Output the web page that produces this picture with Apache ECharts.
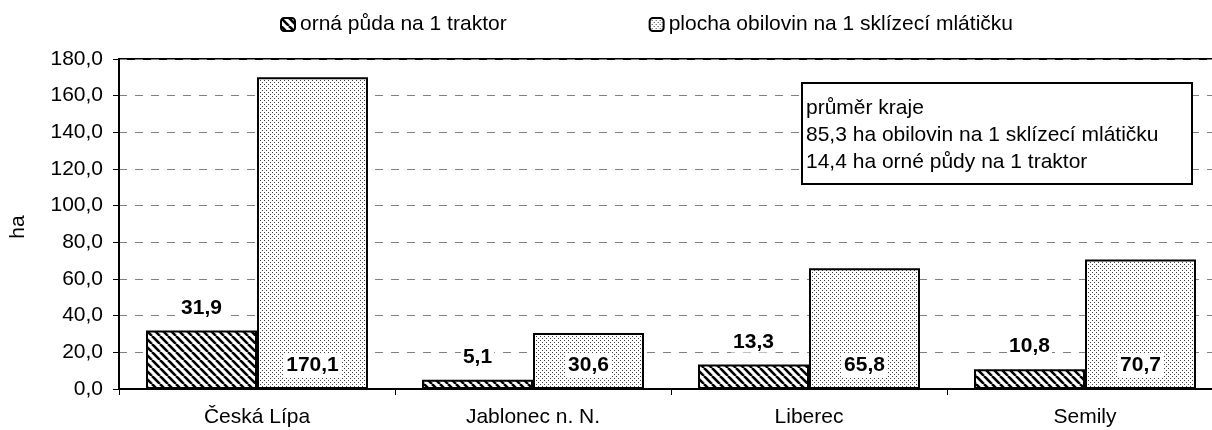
<!DOCTYPE html>
<html>
<head>
<meta charset="utf-8">
<script src="https://cdn.jsdelivr.net/npm/echarts@6/dist/echarts.min.js"></script>
<style>
  html, body { margin: 0; padding: 0; background: #fff; }
  #chart { width: 1212px; height: 430px; }
</style>
</head>
<body>
<div id="chart"></div>
<script>
// okresy
var categories = ['Česká Lípa', 'Jablonec n. N.', 'Liberec', 'Semily']
// ha orné půdy na 1 traktor
var tractorValues = [31.9, 5.1, 13.3, 10.8]
// ha obilovin na 1 sklízecí mlátičku
var combineValues = [170.1, 30.6, 65.8, 70.7]
var seriesNames = ['orná půda na 1 traktor', 'plocha obilovin na 1 sklízecí mlátičku']
var noteLines = ['průměr kraje', '85,3 ha obilovin na 1 sklízecí mlátičku', '14,4 ha orné půdy na 1 traktor']

var FONT = '"Liberation Sans", Arial, sans-serif'

function fmt(v) {
  return Number(v).toFixed(1).replace('.', ',')
}

// šrafování "\\\"
function hatchPattern() {
  var s = 8
  var c = document.createElement('canvas')
  c.width = s
  c.height = s
  var ctx = c.getContext('2d')
  ctx.fillStyle = '#fff'
  ctx.fillRect(0, 0, s, s)
  ctx.strokeStyle = '#000'
  ctx.lineWidth = 2.6
  for (var x0 = -s; x0 <= s; x0 += s) {
    ctx.beginPath()
    ctx.moveTo(x0, 0)
    ctx.lineTo(x0 + s, s)
    ctx.stroke()
  }
  return c
}

// jemné tečky
function dotPattern() {
  var c = document.createElement('canvas')
  c.width = 4
  c.height = 4
  var ctx = c.getContext('2d')
  ctx.fillStyle = '#fff'
  ctx.fillRect(0, 0, 4, 4)
  ctx.fillStyle = '#444'
  ctx.fillRect(0, 0, 1, 1)
  ctx.fillRect(2, 2, 1, 1)
  return c
}

var chart = echarts.init(document.getElementById('chart'), null, { renderer: 'canvas' })

chart.setOption({
  animation: false,
  textStyle: { fontFamily: FONT },
  legend: {
    top: 9,
    left: 275,
    itemGap: 142,
    itemWidth: 14,
    itemHeight: 13,
    textStyle: { fontSize: 21, color: '#000', fontFamily: FONT },
    data: seriesNames
  },
  grid: {
    left: 119,
    top: 59,
    width: 1104,
    height: 330,
    show: true,
    borderColor: '#000',
    borderWidth: 2,
    containLabel: false,
    outerBoundsMode: 'none'
  },
  xAxis: {
    type: 'category',
    data: categories,
    axisLine: { lineStyle: { color: '#000', width: 2 } },
    axisTick: { show: true, length: 6, lineStyle: { color: '#000', width: 1 } },
    axisLabel: { color: '#000', fontSize: 21, margin: 18, fontFamily: FONT }
  },
  yAxis: {
    type: 'value',
    min: 0,
    max: 180,
    interval: 20,
    name: 'ha',
    nameLocation: 'middle',
    nameGap: 90,
    nameRotate: 90,
    nameTextStyle: { fontSize: 21, color: '#000', fontFamily: FONT, padding: [0, 6, 0, 0] },
    axisLine: { show: true, lineStyle: { color: '#000', width: 2 } },
    axisTick: { show: true, length: 6, lineStyle: { color: '#000', width: 1 } },
    axisLabel: { color: '#000', fontSize: 21, margin: 16, formatter: fmt, fontFamily: FONT },
    splitLine: { lineStyle: { color: '#808080', type: [8, 8], width: 1 } }
  },
  series: [
    {
      name: seriesNames[0],
      type: 'bar',
      barWidth: 111,
      barGap: '0%',
      data: tractorValues,
      itemStyle: {
        color: { image: hatchPattern(), repeat: 'repeat' },
        borderColor: '#000',
        borderWidth: 2
      },
      label: {
        show: true,
        position: 'top',
        distance: 12,
        formatter: function (p) { return fmt(p.value) },
        fontSize: 21,
        fontWeight: 'bold',
        color: '#000',
        fontFamily: FONT,
        backgroundColor: '#fff',
        padding: [0, 2]
      }
    },
    {
      name: seriesNames[1],
      type: 'bar',
      barWidth: 111,
      data: combineValues,
      itemStyle: {
        color: { image: dotPattern(), repeat: 'repeat' },
        borderColor: '#000',
        borderWidth: 2
      },
      label: {
        show: true,
        position: 'insideBottom',
        distance: 12,
        formatter: function (p) { return fmt(p.value) },
        fontSize: 21,
        fontWeight: 'bold',
        color: '#000',
        fontFamily: FONT,
        backgroundColor: '#fff',
        padding: [1, 3]
      }
    }
  ],
  graphic: [
    {
      type: 'rect',
      z: 100,
      shape: { x: 802, y: 83, width: 390, height: 101 },
      style: { fill: '#fff', stroke: '#000', lineWidth: 2 }
    },
    {
      type: 'text',
      z: 101,
      x: 806,
      y: 95,
      style: {
        text: noteLines.join('\n'),
        fontSize: 21,
        lineHeight: 27,
        fontFamily: FONT,
        fill: '#000',
        textVerticalAlign: 'top'
      }
    }
  ]
})
</script>
</body>
</html>
